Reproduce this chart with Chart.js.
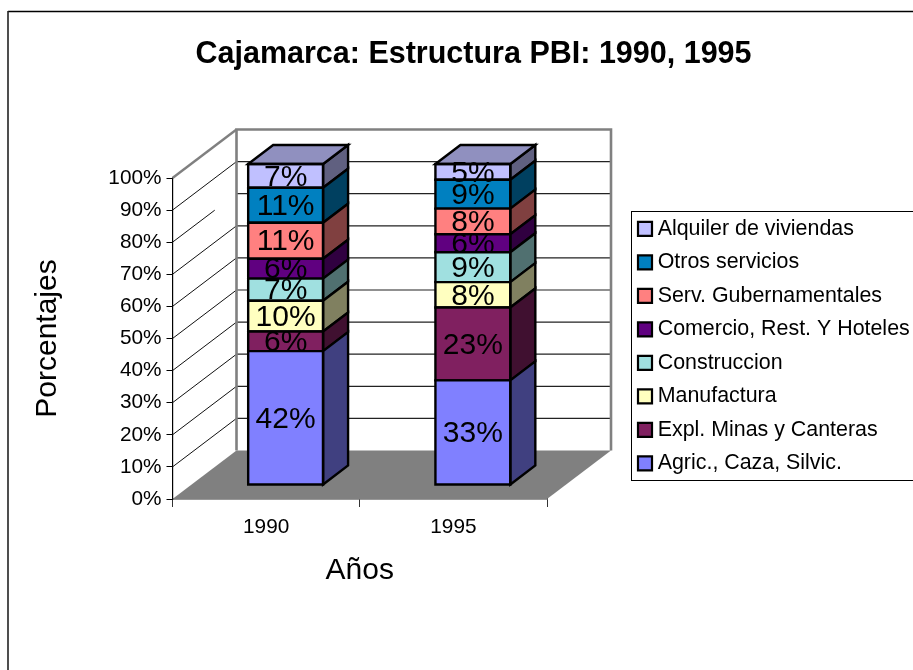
<!DOCTYPE html>
<html>
<head>
<meta charset="utf-8">
<title>Cajamarca</title>
<script src="https://cdn.jsdelivr.net/npm/chart.js@4"></script>
<style>
html, body { margin: 0; padding: 0; background: #fff; overflow: hidden; }
canvas { display: block; }
</style>
</head>
<body>
<canvas id="myChart" width="913" height="670"></canvas>
<script>
// values, shown rounded in the bar labels
var years = ["1990", "1995"];
var agric = [41.7, 32.6];
var minas = [6.1, 22.7];
var manufactura = [9.6, 7.9];
var construccion = [6.9, 9.3];
var comercio = [6.2, 5.6];
var gubernamentales = [11.2, 8.0];
var otros = [10.9, 9.0];
var alquiler = [7.4, 4.9];

var seriesNames = ["Agric., Caza, Silvic.", "Expl. Minas y Canteras", "Manufactura", "Construccion", "Comercio, Rest. Y Hoteles", "Serv. Gubernamentales", "Otros servicios", "Alquiler de viviendas"];
var seriesValues = [agric, minas, manufactura, construccion, comercio, gubernamentales, otros, alquiler];
var seriesColors = ["#8080ff", "#802060", "#ffffc0", "#a0e0e0", "#600080", "#ff8080", "#0080c0", "#c0c0ff"];

var percentTicks = [0, 10, 20, 30, 40, 50, 60, 70, 80, 90, 100];

Chart.defaults.font.family = "'Liberation Sans', Arial, sans-serif";
Chart.defaults.color = "#000";

// depth of the back wall and of the bars, in pixels
var wallDx = 64, wallDy = -48.5;
var barShiftX = 19.5, barShiftY = -14;
var barDx = 25, barDy = -19;
var barStroke = 2.4;

function shade(hex, f) {
	var n = parseInt(hex.slice(1), 16);
	var r = Math.round((n >> 16) * f), g = Math.round(((n >> 8) & 255) * f), b = Math.round((n & 255) * f);
	return "rgb(" + r + "," + g + "," + b + ")";
}

function poly(ctx, pts, fill, stroke, lw) {
	ctx.beginPath();
	ctx.moveTo(pts[0][0], pts[0][1]);
	for (var i = 1; i < pts.length; i++) ctx.lineTo(pts[i][0], pts[i][1]);
	ctx.closePath();
	if (fill) { ctx.fillStyle = fill; ctx.fill(); }
	if (stroke) { ctx.strokeStyle = stroke; ctx.lineWidth = lw; ctx.lineJoin = "miter"; ctx.stroke(); }
}

function line(ctx, x1, y1, x2, y2, color, lw) {
	ctx.beginPath();
	ctx.moveTo(x1, y1);
	ctx.lineTo(x2, y2);
	ctx.strokeStyle = color;
	ctx.lineWidth = lw;
	ctx.stroke();
}

var box3d = {
	id: "box3d",
	afterLayout: function (chart) {
		// the title sits off centre and the legend right of the plot
		chart.titleBlock.left = 34;
		chart.titleBlock.right = 913;
		var lg = chart.legend;
		lg.left = 630.9; lg.right = 913;
		lg.top = 206; lg.bottom = 520; // leaves room for all eight rows in one column
	},
	beforeDraw: function (chart) {
		var ctx = chart.ctx;
		ctx.save();
		ctx.fillStyle = "#fff";
		ctx.fillRect(0, 0, chart.width, chart.height);
		line(ctx, 8, 11.5, 913, 11.5, "#000", 1.5);
		line(ctx, 8, 11, 8, 670, "#222", 1.6);
		// legend frame
		ctx.strokeStyle = "#000";
		ctx.lineWidth = 1;
		ctx.strokeRect(631.5, 211.5, 290, 269);
		ctx.restore();
	},
	beforeDatasetsDraw: function (chart) {
		var ctx = chart.ctx, y = chart.scales.y, a = chart.chartArea;
		var y0 = y.getPixelForValue(0), y100 = y.getPixelForValue(100);
		ctx.save();
		// floor
		poly(ctx, [[a.left, y0], [a.right, y0], [a.right + wallDx, y0 + wallDy], [a.left + wallDx, y0 + wallDy]], "#808080");
		// back wall grid and the slanted lines on the left wall
		percentTicks.forEach(function (v) {
			if (v == 0 || v == 100) return;
			var py = y.getPixelForValue(v);
			line(ctx, a.left + wallDx, py + wallDy, a.right + wallDx, py + wallDy, "#222", 1.2);
			var f = v == 80 ? 0.66 : 1; // this one stops short in the original
			line(ctx, a.left, py, a.left + wallDx * f, py + wallDy * f, "#111", 1);
		});
		// wall frame
		line(ctx, a.left, y100, a.left + wallDx, y100 + wallDy, "#808080", 2.4);
		ctx.beginPath();
		ctx.moveTo(a.left + wallDx, y0 + wallDy);
		ctx.lineTo(a.left + wallDx, y100 + wallDy);
		ctx.lineTo(a.right + wallDx, y100 + wallDy);
		ctx.lineTo(a.right + wallDx, y0 + wallDy);
		ctx.strokeStyle = "#808080";
		ctx.lineWidth = 2.6;
		ctx.stroke();
		ctx.restore();
	},
	beforeDatasetDraw: function (chart) {
		chart.ctx.save();
		chart.ctx.translate(barShiftX, barShiftY);
	},
	afterDatasetDraw: function (chart, args) {
		var ctx = chart.ctx, color = seriesColors[args.index];
		args.meta.data.forEach(function (el) {
			var r = el.x + el.width / 2, l = el.x - el.width / 2;
			poly(ctx, [[r, el.y], [r + barDx, el.y + barDy], [r + barDx, el.base + barDy], [r, el.base]], shade(color, 0.5), "#000", barStroke);
			if (args.index == seriesValues.length - 1) {
				poly(ctx, [[l, el.y], [l + barDx, el.y + barDy], [r + barDx, el.y + barDy], [r, el.y]], shade(color, 0.75), "#000", barStroke);
			}
			// front face outline, centred on the edges
			poly(ctx, [[l, el.y], [r, el.y], [r, el.base], [l, el.base]], null, "#000", barStroke);
		});
		ctx.restore();
	},
	afterDatasetsDraw: function (chart) {
		var ctx = chart.ctx;
		ctx.save();
		ctx.translate(barShiftX, barShiftY);
		ctx.font = "30px 'Liberation Sans', Arial, sans-serif";
		ctx.fillStyle = "#000";
		ctx.textAlign = "center";
		ctx.textBaseline = "middle";
		seriesValues.forEach(function (vals, i) {
			chart.getDatasetMeta(i).data.forEach(function (el, k) {
				ctx.fillText(Math.round(vals[k]) + "%", el.x, (el.y + el.base) / 2 + 1.5);
			});
		});
		ctx.restore();
	}
};

var datasets = [];
seriesNames.forEach(function (name, i) {
	datasets.push({
		label: name,
		data: seriesValues[i],
		backgroundColor: seriesColors[i],
		borderColor: "#000",
		borderWidth: 0,
		inflateAmount: 0,
		clip: false
	});
});

var chart = new Chart(document.getElementById("myChart"), {
	type: "bar",
	data: { labels: years, datasets: datasets },
	plugins: [box3d],
	options: {
		responsive: false,
		animation: false,
		categoryPercentage: 0.4,
		barPercentage: 1,
		layout: { autoPadding: false, padding: { left: 30, right: 366, top: 0, bottom: 0 } },
		plugins: {
			tooltip: { enabled: false },
			title: {
				display: true,
				text: "Cajamarca: Estructura PBI: 1990, 1995",
				color: "#000",
				font: { size: 30.5, weight: "bold" },
				padding: { top: 36, bottom: 105.4 }
			},
			legend: {
				position: "chartArea",
				align: "start",
				reverse: true,
				labels: {
					font: { size: 21.4 },
					color: "#000",
					usePointStyle: true,
					pointStyle: "rect",
					boxWidth: 4,
					boxHeight: 14,
					padding: 12.1,
					generateLabels: function (c) {
						var items = Chart.defaults.plugins.legend.labels.generateLabels(c);
						items.forEach(function (it) { it.lineWidth = 2.2; it.strokeStyle = "#000"; });
						return items;
					}
				}
			}
		},
		scales: {
			x: {
				stacked: true,
				afterFit: function (s) { s.height = 171; },
				grid: { drawOnChartArea: false, color: "#333", tickLength: 8 },
				border: { color: "#333", width: 1.4 },
				ticks: { font: { size: 20.8 }, color: "#000", maxRotation: 0, padding: 7.5 },
				title: { display: true, text: "Años", color: "#000", font: { size: 30 }, padding: { top: 0, bottom: 81 } }
			},
			y: {
				stacked: true,
				min: 0,
				max: 100,
				afterFit: function (s) { s.width = 142.5; },
				afterBuildTicks: function (s) { s.ticks = percentTicks.map(function (v) { return { value: v }; }); },
				grid: { drawOnChartArea: false, color: "#000", tickLength: 6 },
				border: { color: "#000", width: 1.2 },
				ticks: { font: { size: 20.8 }, color: "#000", padding: 5, callback: function (v) { return v + "%"; } },
				title: { display: true, text: "Porcentajes", color: "#000", font: { size: 30 }, padding: 0 }
			}
		}
	}
});
</script>
</body>
</html>
